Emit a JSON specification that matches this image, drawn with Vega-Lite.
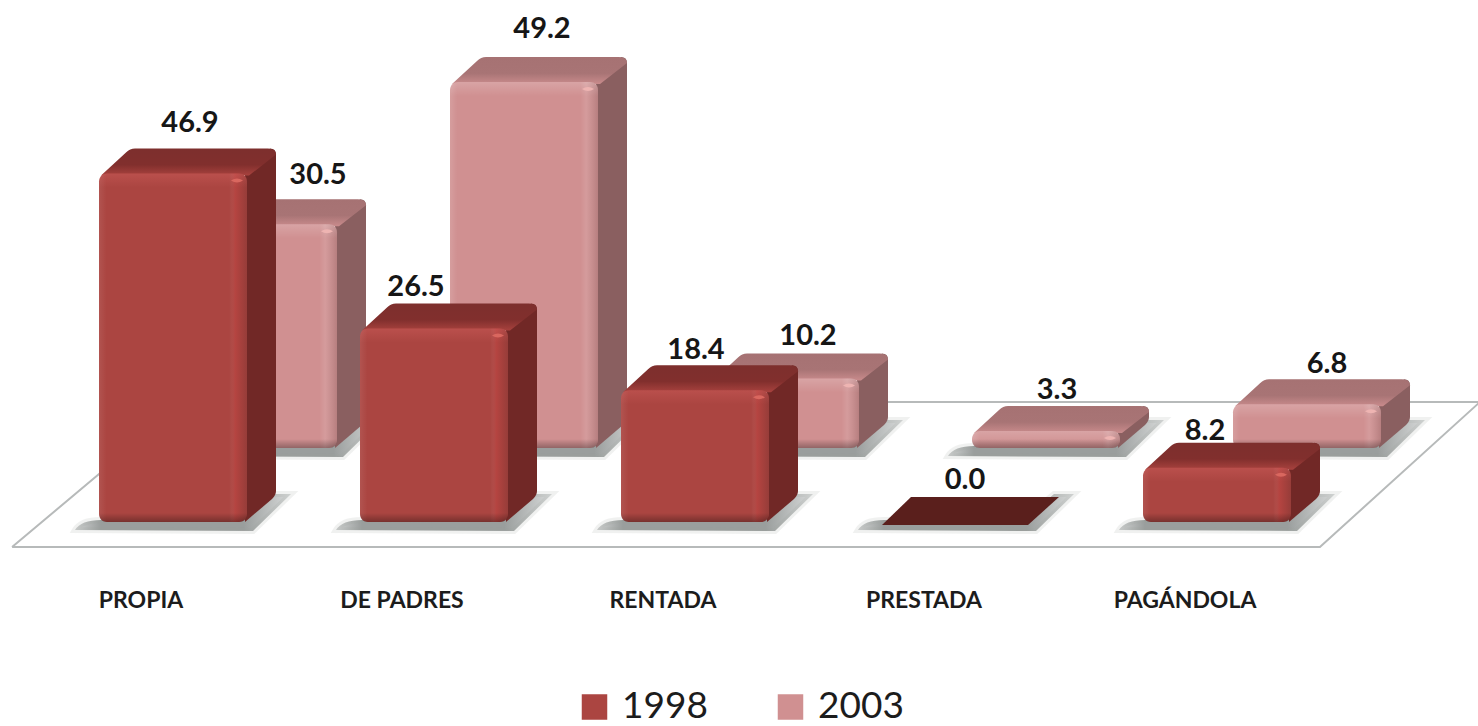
{"$schema":"https://vega.github.io/schema/vega-lite/v6.json","width":1478,"height":726,"padding":0,"autosize":{"type":"fit","contains":"padding"},"background":"white","config":{"view":{"stroke":null}},"datasets":{"bars":[{"cat":"PROPIA","year":"1998","value":46.9},{"cat":"DE PADRES","year":"1998","value":26.5},{"cat":"RENTADA","year":"1998","value":18.4},{"cat":"PRESTADA","year":"1998","value":0.0},{"cat":"PAGÁNDOLA","year":"1998","value":8.2},{"cat":"PROPIA","year":"2003","value":30.5},{"cat":"DE PADRES","year":"2003","value":49.2},{"cat":"RENTADA","year":"2003","value":10.2},{"cat":"PRESTADA","year":"2003","value":3.3},{"cat":"PAGÁNDOLA","year":"2003","value":6.8}],"floor":[{"corner":1,"along":0.006,"level":-3.29},{"corner":2,"along":5.017,"level":-3.29},{"corner":3,"along":5.63,"level":16.84},{"corner":4,"along":0.668,"level":16.84},{"corner":5,"along":0.006,"level":-3.29}]},"layer":[{"data":{"name":"floor"},"mark":{"type":"line","color":"#b7baba","strokeWidth":2,"clip":false},"encoding":{"x":{"field":"along","type":"quantitative","axis":null,"scale":{"domain":[0,5],"range":[10.5,1315.5],"nice":false,"zero":false}},"y":{"field":"level","type":"quantitative","axis":null,"scale":{"domain":[-30,0,1.05,70],"range":[750,522,522,-2]}},"order":{"field":"corner","type":"quantitative"}}},{"data":{"name":"bars"},"encoding":{"x":{"field":"cat","type":"nominal","sort":["PROPIA","DE PADRES","RENTADA","PRESTADA","PAGÁNDOLA"],"title":null,"scale":{"type":"band","range":[10.5,1315.5],"paddingInner":0,"paddingOuter":0},"axis":{"orient":"bottom","offset":-137,"domain":false,"ticks":false,"grid":false,"labelAngle":0,"labelPadding":0,"labelFont":"Lato","labelFontWeight":"bold","labelFontSize":23,"labelColor":"#1c1c1c","labelBaseline":"top"}},"y":{"field":"value","type":"quantitative","axis":null}},"layer":[{"transform":[{"filter":"datum.year=='2003'"}],"layer":[{"encoding":{"y":{"datum":0}},"mark":{"type":"point","filled":true,"size":4,"opacity":1,"xOffset":122,"yOffset":-74,"shape":"M-98 8 Q-92 -2 -72 -2 L70 -4 L98 -28 L118 -28 L80 9 Z","fill":{"gradient":"linear","x1":0,"y1":0,"x2":1,"y2":0,"stops":[{"offset":0,"color":"#d0d2d2"},{"offset":0.12,"color":"#9a9e9d"},{"offset":0.78,"color":"#9a9e9d"},{"offset":1,"color":"#d8dada"}]},"stroke":"#9a9e9d","strokeOpacity":0.15,"strokeWidth":6}},{"mark":{"type":"point","filled":true,"size":4,"opacity":1,"xOffset":122,"yOffset":-74,"strokeWidth":0,"fill":"#8a5f60","shape":{"expr":"'M72 0 L97 -25 Q103 -25 103 -19 L103 '+(max(0,7.6*datum.value-8)-31)+' Q103 '+(max(0,7.6*datum.value-8)-27)+' 99 '+(max(0,7.6*datum.value-8)-23)+' L72 '+max(0,7.6*datum.value-8)+' Z'"}}},{"mark":{"type":"point","filled":true,"size":4,"opacity":1,"xOffset":122,"yOffset":-74,"strokeWidth":0,"shape":"M-72 2 L-47 -21 Q-43 -25 -38 -25 L95 -25 Q103 -25 103 -19 L76 2 Z","fill":{"gradient":"linear","x1":0,"y1":0,"x2":0,"y2":1,"stops":[{"offset":0,"color":"#a67273"},{"offset":0.6,"color":"#a87475"},{"offset":1,"color":"#c98b8c"}]}}},{"mark":{"type":"bar","width":148,"cornerRadius":8,"xOffset":122,"yOffset":-74,"y2Offset":-74},"encoding":{"y2":{"datum":0},"color":{"field":"year","type":"nominal","scale":{"domain":["1998","2003"],"range":["#ab4541","#d09091"]},"legend":{"orient":"none","legendX":576,"legendY":687,"direction":"horizontal","title":null,"symbolType":"square","symbolSize":650,"symbolStrokeWidth":0,"labelFont":"Lato","labelFontSize":37,"labelColor":"#1c1c1c","labelOffset":9,"columnPadding":64,"clipHeight":40}}}},{"mark":{"type":"bar","width":148,"cornerRadius":8,"xOffset":122,"yOffset":-74,"y2Offset":-74,"fill":{"gradient":"linear","x1":0,"y1":0,"x2":1,"y2":0,"stops":[{"offset":0,"color":"rgba(255,255,255,0.12)"},{"offset":0.05,"color":"rgba(255,255,255,0)"},{"offset":0.88,"color":"rgba(255,255,255,0)"},{"offset":0.92,"color":"rgba(255,255,255,0.1)"},{"offset":1,"color":"rgba(0,0,0,0.12)"}]}},"encoding":{"y2":{"datum":0}}},{"mark":{"type":"point","filled":true,"size":4,"opacity":1,"xOffset":122,"yOffset":-74,"strokeWidth":0,"shape":"M-74 8 Q-74 0 -66 0 L66 0 Q74 0 74 8 L74 14 L-74 14 Z","fill":{"gradient":"linear","x1":0,"y1":0,"x2":0,"y2":1,"stops":[{"offset":0,"color":"rgba(255,255,255,0.18)"},{"offset":1,"color":"rgba(255,255,255,0)"}]}}},{"encoding":{"y":{"datum":0}},"mark":{"type":"point","filled":true,"size":4,"opacity":1,"xOffset":122,"yOffset":-74,"strokeWidth":0,"shape":"M-74 -9 L74 -9 Q74 0 66 0 L-66 0 Q-74 0 -74 -9 Z","fill":{"gradient":"linear","x1":0,"y1":0,"x2":0,"y2":1,"stops":[{"offset":0,"color":"rgba(0,0,0,0)"},{"offset":1,"color":"rgba(0,0,0,0.3)"}]}}},{"mark":{"type":"point","filled":true,"size":4,"opacity":1,"xOffset":122,"yOffset":-74,"strokeWidth":0,"fill":"#eeb4b2","shape":"M58 7 Q64 3 70 7 Q64 11 58 7 Z"}}]},{"transform":[{"filter":"datum.year=='1998'"}],"layer":[{"encoding":{"y":{"datum":0}},"mark":{"type":"point","filled":true,"size":4,"opacity":1,"xOffset":32,"shape":"M-98 8 Q-92 -2 -72 -2 L70 -4 L98 -28 L118 -28 L80 9 Z","fill":{"gradient":"linear","x1":0,"y1":0,"x2":1,"y2":0,"stops":[{"offset":0,"color":"#d0d2d2"},{"offset":0.12,"color":"#9a9e9d"},{"offset":0.78,"color":"#9a9e9d"},{"offset":1,"color":"#d8dada"}]},"stroke":"#9a9e9d","strokeOpacity":0.15,"strokeWidth":6}},{"mark":{"type":"point","filled":true,"size":4,"opacity":1,"xOffset":32,"strokeWidth":0,"fill":"#712826","shape":{"expr":"'M72 0 L97 -25 Q103 -25 103 -19 L103 '+(max(0,7.6*datum.value-8)-31)+' Q103 '+(max(0,7.6*datum.value-8)-27)+' 99 '+(max(0,7.6*datum.value-8)-23)+' L72 '+max(0,7.6*datum.value-8)+' Z'"}},"transform":[{"filter":"datum.value>0"}]},{"transform":[{"filter":"datum.value>0"}],"mark":{"type":"point","filled":true,"size":4,"opacity":1,"xOffset":32,"strokeWidth":0,"shape":"M-72 2 L-47 -21 Q-43 -25 -38 -25 L95 -25 Q103 -25 103 -19 L76 2 Z","fill":{"gradient":"linear","x1":0,"y1":0,"x2":0,"y2":1,"stops":[{"offset":0,"color":"#7d2f2d"},{"offset":0.6,"color":"#812f2d"},{"offset":1,"color":"#a8423e"}]}}},{"transform":[{"filter":"datum.value==0"}],"mark":{"type":"point","filled":true,"size":4,"opacity":1,"xOffset":32,"strokeWidth":0,"fill":"#5a1f1c","shape":"M-74 3 L-45 -25 L103 -25 L72 3 Z"}},{"transform":[{"filter":"datum.value>0"}],"mark":{"type":"bar","width":148,"cornerRadius":8,"xOffset":32},"encoding":{"y2":{"datum":0},"color":{"field":"year","type":"nominal"}}},{"transform":[{"filter":"datum.value>0"}],"mark":{"type":"bar","width":148,"cornerRadius":8,"xOffset":32,"fill":{"gradient":"linear","x1":0,"y1":0,"x2":1,"y2":0,"stops":[{"offset":0,"color":"rgba(255,255,255,0.08)"},{"offset":0.05,"color":"rgba(255,255,255,0)"},{"offset":0.88,"color":"rgba(255,255,255,0)"},{"offset":0.92,"color":"rgba(255,64,64,0.12)"},{"offset":1,"color":"rgba(0,0,0,0.12)"}]}},"encoding":{"y2":{"datum":0}}},{"transform":[{"filter":"datum.value>0"}],"mark":{"type":"point","filled":true,"size":4,"opacity":1,"xOffset":32,"strokeWidth":0,"shape":"M-74 8 Q-74 0 -66 0 L66 0 Q74 0 74 8 L74 14 L-74 14 Z","fill":{"gradient":"linear","x1":0,"y1":0,"x2":0,"y2":1,"stops":[{"offset":0,"color":"rgba(255,128,128,0.18)"},{"offset":1,"color":"rgba(255,128,128,0)"}]}}},{"transform":[{"filter":"datum.value>0"}],"encoding":{"y":{"datum":0}},"mark":{"type":"point","filled":true,"size":4,"opacity":1,"xOffset":32,"strokeWidth":0,"shape":"M-74 -9 L74 -9 Q74 0 66 0 L-66 0 Q-74 0 -74 -9 Z","fill":{"gradient":"linear","x1":0,"y1":0,"x2":0,"y2":1,"stops":[{"offset":0,"color":"rgba(0,0,0,0)"},{"offset":1,"color":"rgba(0,0,0,0.3)"}]}}},{"transform":[{"filter":"datum.value>0"}],"mark":{"type":"point","filled":true,"size":4,"opacity":1,"xOffset":32,"strokeWidth":0,"fill":"#d9675f","shape":"M58 7 Q64 3 70 7 Q64 11 58 7 Z"}}]},{"transform":[{"filter":"datum.year=='1998'"}],"mark":{"type":"text","font":"Lato","fontSize":29,"fontWeight":"bold","color":"#161616","xOffset":{"expr":"({'PROPIA':49,'DE PADRES':14,'RENTADA':33,'PRESTADA':41,'PAGÁNDOLA':20})[datum.cat]"},"yOffset":{"expr":"({'PROPIA':-51,'DE PADRES':-42,'RENTADA':-40,'PRESTADA':-42,'PAGÁNDOLA':-37})[datum.cat]"}},"encoding":{"text":{"field":"value","type":"quantitative","format":".1f"}}},{"transform":[{"filter":"datum.year=='2003'"}],"mark":{"type":"text","font":"Lato","fontSize":29,"fontWeight":"bold","color":"#161616","xOffset":{"expr":"({'PROPIA':177,'DE PADRES':140,'RENTADA':145,'PRESTADA':133,'PAGÁNDOLA':142})[datum.cat]"},"yOffset":{"expr":"({'PROPIA':-123,'DE PADRES':-127,'RENTADA':-116,'PRESTADA':-115,'PAGÁNDOLA':-114})[datum.cat]"}},"encoding":{"text":{"field":"value","type":"quantitative","format":".1f"}}}]}],"resolve":{"scale":{"x":"independent"}}}
